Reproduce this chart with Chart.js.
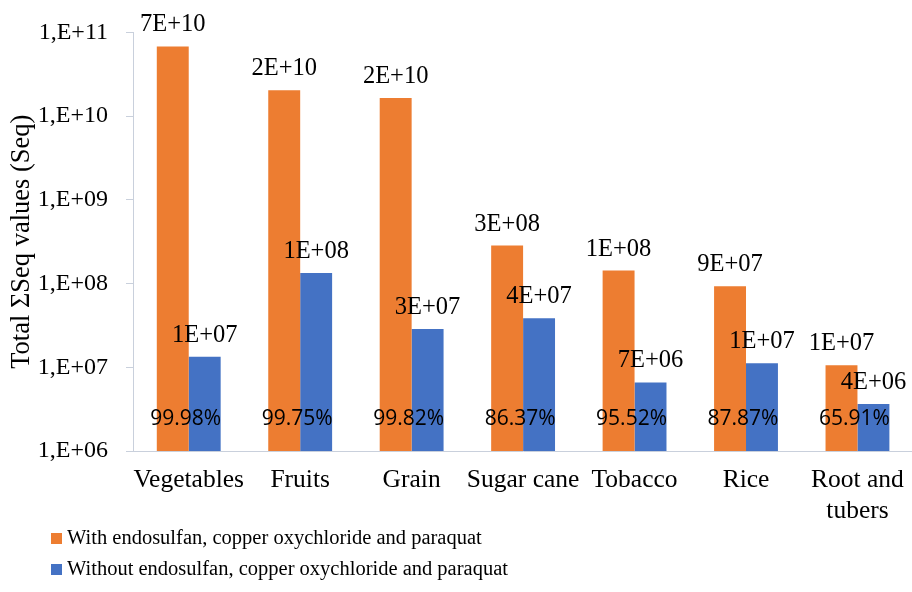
<!DOCTYPE html>
<html>
<head>
<meta charset="utf-8">
<script src="https://cdn.jsdelivr.net/npm/chart.js@4/dist/chart.umd.min.js"></script>
<style>
  html, body { margin: 0; padding: 0; background: #fff; overflow: hidden; }
  #wrap { width: 918px; height: 592px; position: relative; }
</style>
</head>
<body>
<div id="wrap"><canvas id="c"></canvas></div>
<script>
const categories = ['Vegetables', 'Fruits', 'Grain', 'Sugar cane', 'Tobacco', 'Rice', ['Root and', 'tubers']];
const withValues = [6.8e10, 2.04e10, 1.65e10, 2.84e8, 1.43e8, 9.3e7, 1.06e7];
const withoutValues = [1.34e7, 1.34e8, 2.87e7, 3.84e7, 6.6e6, 1.12e7, 3.63e6];
const reductionPct = [99.98, 99.75, 99.82, 86.37, 95.52, 87.87, 65.91];
const yTickValues = [1e6, 1e7, 1e8, 1e9, 1e10, 1e11];
const seriesNames = ['With endosulfan, copper oxychloride and paraquat', 'Without endosulfan, copper oxychloride and paraquat'];
const seriesColors = ['#ED7D31', '#4472C4'];

const SERIF = '"Liberation Serif", "Times New Roman", serif';
const AXIS_COLOR = '#C9D0DC';

function sciLabel(v) {
  const parts = v.toExponential(0).split('e');
  const sign = parts[1][0];
  const exp = parts[1].slice(1).padStart(2, '0');
  return parts[0] + 'E' + sign + exp;
}

const barLabelPlugin = {
  id: 'barLabels',
  afterDatasetsDraw(chart) {
    const ctx = chart.ctx;
    ctx.save();
    ctx.fillStyle = '#000';
    ctx.textAlign = 'center';
    ctx.textBaseline = 'alphabetic';
    ctx.font = '24.5px ' + SERIF;
    chart.data.datasets.forEach((ds, di) => {
      const meta = chart.getDatasetMeta(di);
      meta.data.forEach((el, i) => {
        ctx.fillText(sciLabel(ds.data[i]), el.x, el.y - 15);
      });
    });
    // percentage labels
    const xs = chart.scales.x;
    ctx.font = '21px "Open Sans", "Liberation Sans", sans-serif';
    ctx.textBaseline = 'middle';
    reductionPct.forEach((p, i) => {
      ctx.fillText(p.toFixed(2) + '%', xs.getPixelForValue(i) - 3, chart.chartArea.bottom - 32);
    });
    ctx.restore();
  }
};

const legendPlugin = {
  id: 'customLegend',
  afterDraw(chart) {
    const ctx = chart.ctx;
    ctx.save();
    ctx.font = '20.5px ' + SERIF;
    ctx.textAlign = 'left';
    ctx.textBaseline = 'middle';
    const rows = [539, 570];
    chart.data.datasets.forEach((ds, i) => {
      ctx.fillStyle = ds.backgroundColor;
      ctx.fillRect(51, rows[i] - 6, 11, 11);
      ctx.fillStyle = '#000';
      ctx.fillText(ds.label, 67, rows[i]);
    });
    ctx.restore();
  }
};

new Chart(document.getElementById('c'), {
  type: 'bar',
  data: {
    labels: categories,
    datasets: [
      { label: seriesNames[0], data: withValues, backgroundColor: seriesColors[0] },
      { label: seriesNames[1], data: withoutValues, backgroundColor: seriesColors[1] }
    ]
  },
  options: {
    responsive: true,
    maintainAspectRatio: false,
    animation: false,
    devicePixelRatio: 1,
    categoryPercentage: 0.573,
    barPercentage: 1.0,
    layout: { padding: { top: 29, bottom: 0, left: 0, right: 2 } },
    plugins: {
      legend: { display: false },
      tooltip: { enabled: false }
    },
    scales: {
      x: {
        grid: { display: true, drawOnChartArea: false, drawTicks: false },
        border: { display: true, color: AXIS_COLOR, width: 1 },
        ticks: { color: '#000', font: { family: SERIF, size: 25.5 }, padding: 14, maxRotation: 0, autoSkip: false },
        afterFit(scale) { scale.height = 141; }
      },
      y: {
        type: 'logarithmic',
        min: 1e6,
        max: 1e11,
        grid: { display: true, drawOnChartArea: false, drawTicks: true, tickLength: 7, color: AXIS_COLOR },
        border: { display: true, color: AXIS_COLOR, width: 1 },
        afterBuildTicks(scale) { scale.ticks = yTickValues.map(v => ({ value: v })); },
        ticks: {
          color: '#000',
          font: { family: SERIF, size: 24 },
          padding: 18,
          callback(v) { return '1,E+' + String(Math.round(Math.log10(v))).padStart(2, '0'); }
        },
        title: {
          display: true,
          text: 'Total ΣSeq values (Seq)',
          color: '#000',
          font: { family: SERIF, size: 26.5 },
          padding: { top: 6, bottom: 0 }
        },
        afterFit(scale) { scale.width = 133; }
      }
    }
  },
  plugins: [barLabelPlugin, legendPlugin]
});
</script>
</body>
</html>
